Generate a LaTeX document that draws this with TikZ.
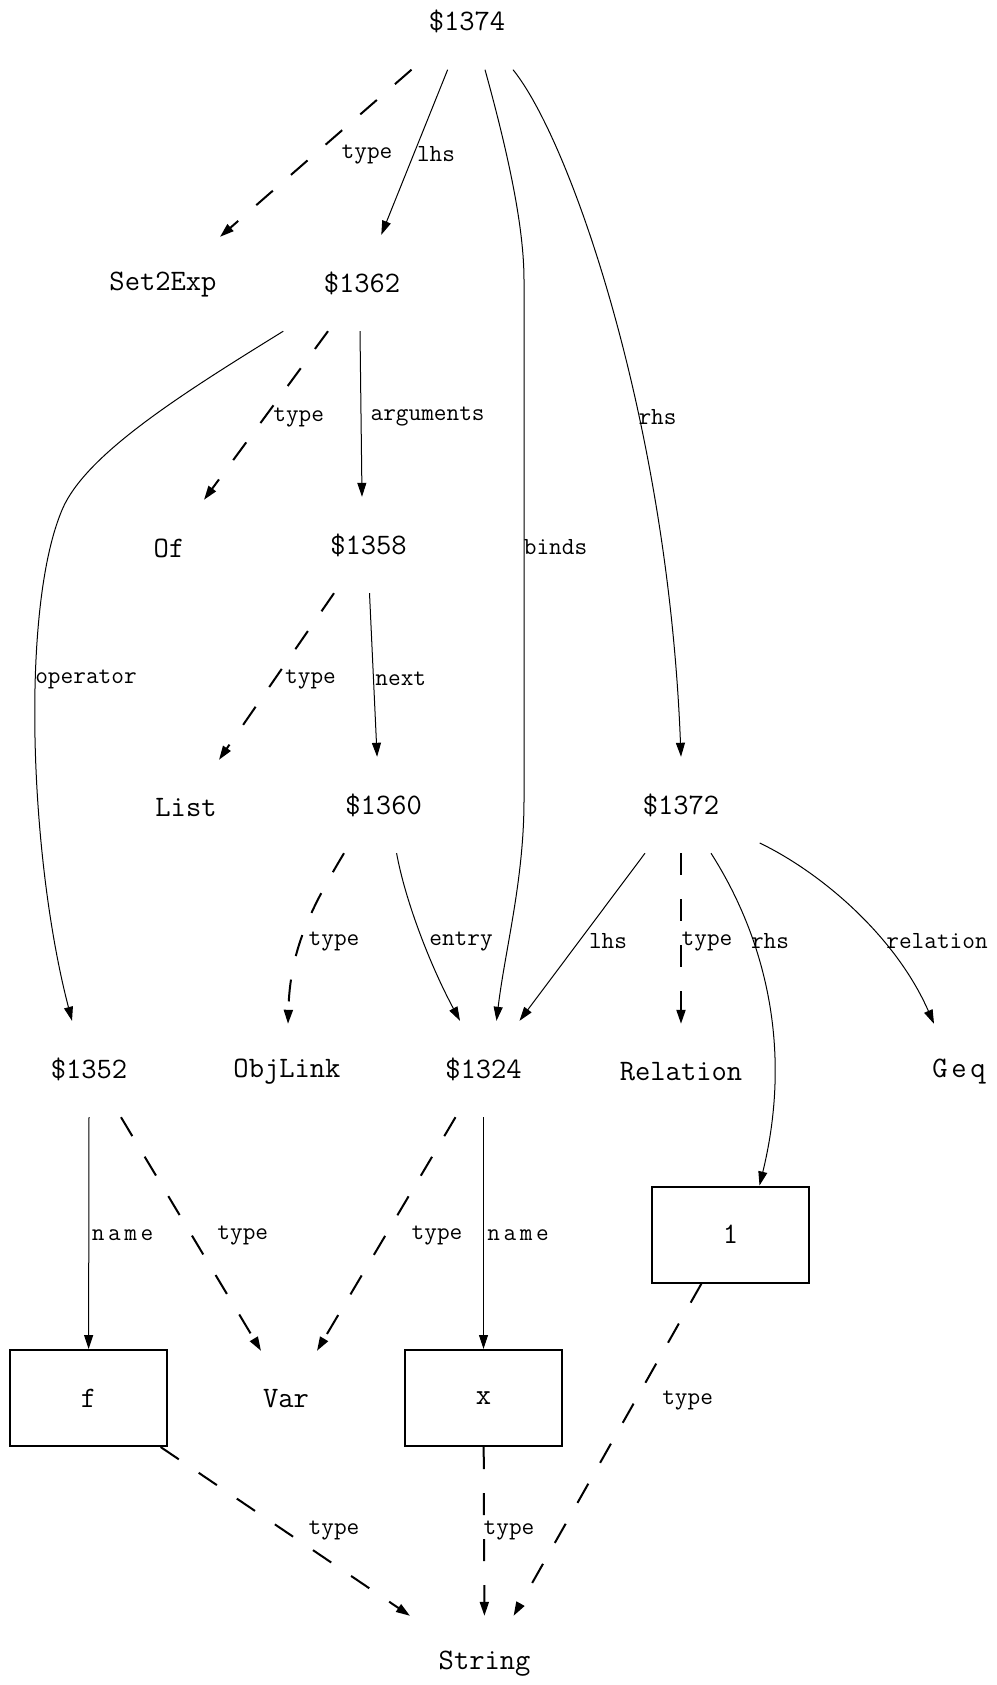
\documentclass[tikz,border=0pt]{standalone}
\usepackage{fontspec}
\usetikzlibrary{arrows.meta}
\begin{document}
\begin{tikzpicture}[x=1pt,y=-1pt,
  obj/.style={minimum width=157pt,minimum height=96pt,inner sep=0pt,
    font=\ttfamily\fontsize{29.7}{30}\selectfont},
  strbox/.style={obj,draw,line width=2pt},
  lbl/.style={inner sep=0pt,font=\ttfamily\fontsize{24.6}{25}\selectfont},
  rel/.style={line width=1pt,-{Triangle[length=14pt,width=9pt]}},
  typ/.style={rel,line width=2pt,dash pattern=on 22pt off 24pt},
]
\useasboundingbox (0,0) rectangle (996,1685);

% objects
\node[obj] (n1374) at (467,21.5) {\$1374};
\node[obj] (set2exp) at (163,285) {Set2Exp};
\node[obj] (n1362) at (362,283) {\$1362};
\node[obj] (of) at (169,548) {Of};
\node[obj] (n1358) at (368.5,545) {\$1358};
\node[obj] (list) at (186,808) {List};
\node[obj] (n1360) at (383.6,805) {\$1360};
\node[obj] (n1372) at (681,805) {\$1372};
\node[obj] (n1352) at (89,1069) {\$1352};
\node[obj] (objlink) at (287,1072) {ObjLink};
\node[obj] (n1324) at (483.5,1069) {\$1324};
\node[obj] (relation) at (681,1072) {Relation};
\node[obj] (geq) at (959,1072) {G\kern3.7pt e\kern3.7pt q};
\node[strbox] (one) at (730.5,1234.5) {1};
\node[strbox] (boxf) at (88.6,1398) {f};
\node[obj] (var) at (286,1399) {Var};
\node[strbox] (boxx) at (483.5,1398) {x};
\node[obj] (string) at (484.6,1664) {String};

% connectors
\draw[typ] ([xshift=-55.5pt]n1374.south) -- ([xshift=57pt]set2exp.north);
\draw[rel] (n1374) -- (n1362);
\draw[rel] ([xshift=18pt]n1374.south) .. controls (510,160) and (524,230) .. (524,280)
  -- (524,800) .. controls (524,880) and (505,950) .. ([xshift=13pt]n1324.north);
\draw[rel] ([xshift=46pt]n1374.south) .. controls (570,140) and (668,420) .. (n1372.north);
\draw[rel] (n1362.south west) .. controls (180,395) and (85,455) .. (62,510)
  .. controls (20,610) and (30,860) .. ([xshift=-17pt]n1352.north);
\draw[typ] ([xshift=-34pt]n1362.south) -- ([xshift=35pt]of.north);
\draw[rel] ([xshift=-2pt]n1362.south) -- ([xshift=-6.5pt]n1358.north);
\draw[typ] ([xshift=-34.5pt]n1358.south) -- ([xshift=33pt]list.north);
\draw[rel] ([xshift=1pt]n1358.south) -- ([xshift=-6.5pt]n1360.north);
\draw[typ] ([xshift=-39.6pt]n1360.south) .. controls (310,910) and (290,950) .. ([xshift=1pt]objlink.north);
\draw[rel] ([xshift=13pt]n1360.south) .. controls (405,900) and (430,965) .. ([xshift=-23.5pt]n1324.north);
\draw[rel] (n1372) -- (n1324);
\draw[typ] (n1372) -- (relation);
\draw[rel] ([xshift=30pt]n1372.south) .. controls (760,930) and (795,1040) .. ([xshift=29pt]one.north);
\draw[rel] ([yshift=-38pt]n1372.east) .. controls (820,872) and (895,935) .. ([xshift=-25pt]geq.north);
\draw[rel] (n1352.south) -- (boxf.north);
\draw[typ] ([xshift=32pt]n1352.south) -- ([xshift=-25pt]var.north);
\draw[typ] ([xshift=-28pt]n1324.south) -- ([xshift=31pt]var.north);
\draw[rel] (n1324) -- (boxx);
\draw[typ] ([xshift=-29pt]one.south) -- ([xshift=29pt]string.north);
\draw[typ] ([xshift=72pt]boxf.south) -- ([xshift=-74.6pt]string.north);
\draw[typ] (boxx) -- (string);

% connector labels
\node[lbl] (l1) at (367,154) {type};
\node[lbl] (l2) at (436,154) {lhs};
\node[lbl] (l3) at (555.5,547) {binds};
\node[lbl] (l4) at (657.5,417) {rhs};
\node[lbl] (l5) at (86,679) {operator};
\node[lbl] (l6) at (298.7,417) {type};
\node[lbl] (l7) at (427.6,417) {arguments};
\node[lbl] (l8) at (310.5,679) {type};
\node[lbl] (l9) at (400.8,679) {next};
\node[lbl] (l10) at (334,941) {type};
\node[lbl] (l11) at (461,941) {entry};
\node[lbl] (l12) at (608,941) {lhs};
\node[lbl] (l13) at (707,941) {type};
\node[lbl] (l14) at (770,941) {rhs};
\node[lbl] (l15) at (937,941) {relation};
\node[lbl] (l16) at (122.5,1235.6) {n\kern3.6pt a\kern3.6pt m\kern3.6pt e};
\node[lbl] (l17) at (242.8,1235.6) {type};
\node[lbl] (l18) at (437,1235.6) {type};
\node[lbl] (l19) at (518,1235.6) {n\kern3.6pt a\kern3.6pt m\kern3.6pt e};
\node[lbl] (l20) at (687.6,1400) {type};
\node[lbl] (l21) at (334,1530) {type};
\node[lbl] (l22) at (509,1530) {type};
\end{tikzpicture}
\end{document}
